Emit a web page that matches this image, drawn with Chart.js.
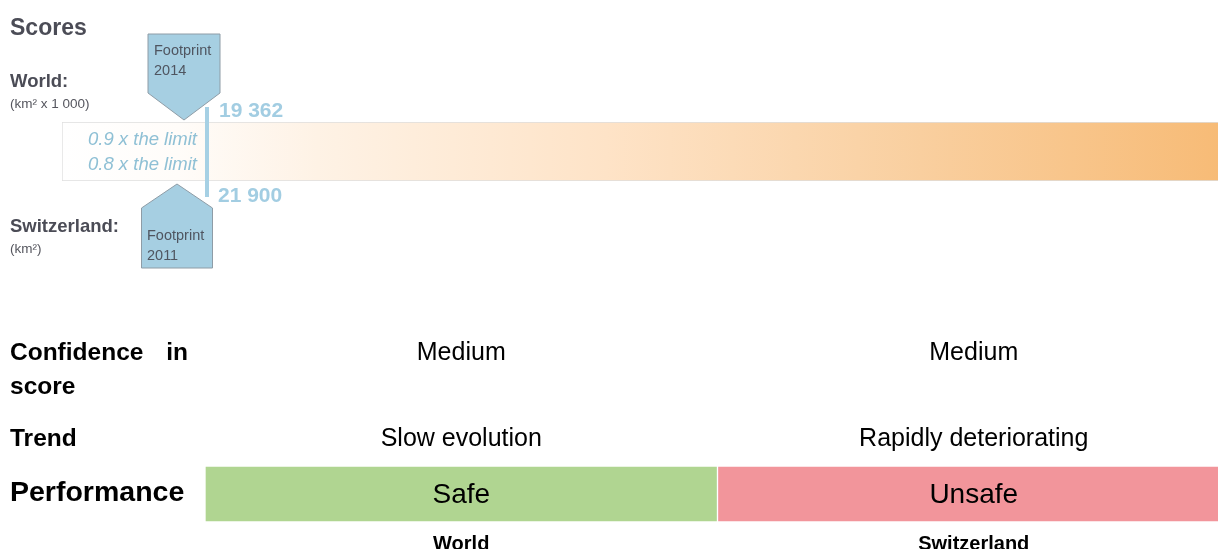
<!DOCTYPE html>
<html>
<head>
<meta charset="utf-8">
<script src="https://cdn.jsdelivr.net/npm/chart.js@4.4.1/dist/chart.umd.min.js"></script>
<style>
  html, body { margin: 0; padding: 0; background: #fff; overflow: hidden; width: 1218px; height: 549px; }
  #scores { position: absolute; left: 0; top: 0; }
  #table { position: absolute; left: 0; top: 290px; }
</style>
</head>
<body>
<canvas id="scores" width="1222" height="290"></canvas>
<canvas id="table" width="1230" height="276"></canvas>
<script>
const FONT = "'Liberation Sans', Arial, sans-serif";

// scores part
const scoreLabels = ['World:', 'Switzerland:'];
const unitNotes = ['(km² x 1 000)', '(km²)'];
const footprintYears = ['2014', '2011'];
const footprintValues = [19362, 21900];
const limitRatios = [0.9, 0.8];
const scaleMax = 7.2; // right end of the bar, in "x the limit"

// table part
const regions = ['World', 'Switzerland'];
const confidence = ['Medium', 'Medium'];
const trend = ['Slow evolution', 'Rapidly deteriorating'];
const performance = ['Safe', 'Unsafe'];
const perfColors = ['#b0d591', '#f2959b'];

function fmt(v) {
    return String(v).replace(/\B(?=(\d{3})+(?!\d))/g, ' ');
}

function pentagon(ctx, pts) {
    ctx.beginPath();
    pts.forEach((p, i) => i ? ctx.lineTo(p[0], p[1]) : ctx.moveTo(p[0], p[1]));
    ctx.closePath();
    ctx.fillStyle = '#a6cfe2';
    ctx.fill();
    ctx.strokeStyle = '#8e9ca6';
    ctx.lineWidth = 1;
    ctx.stroke();
}

const scoreDecor = {
    id: 'scoreDecor',
    afterDatasetsDraw(chart) {
        const ctx = chart.ctx;
        const lx = chart.scales.x.getPixelForValue(limitRatios[0]);
        ctx.save();
        ctx.textBaseline = 'alphabetic';

        // left titles
        ctx.fillStyle = '#4b4c56';
        ctx.textAlign = 'left';
        ctx.font = 'bold 23px ' + FONT;
        ctx.fillText('Scores', 10, 35);
        ctx.font = 'bold 18.5px ' + FONT;
        ctx.fillText(scoreLabels[0], 10, 87);
        ctx.fillText(scoreLabels[1], 10, 232);
        ctx.fillStyle = '#55565e';
        ctx.font = '13.5px ' + FONT;
        ctx.fillText(unitNotes[0], 10, 108);
        ctx.fillText(unitNotes[1], 10, 253);

        // marker line
        ctx.fillStyle = '#a6d0e4';
        ctx.fillRect(lx - 2, 107, 4, 90);

        // footprint callouts
        let cx = lx - 23;
        pentagon(ctx, [[cx - 36, 34], [cx + 36, 34], [cx + 36, 93], [cx, 120], [cx - 36, 93]]);
        cx = lx - 30;
        pentagon(ctx, [[cx, 184], [cx + 35.5, 208], [cx + 35.5, 268], [cx - 35.5, 268], [cx - 35.5, 208]]);

        ctx.fillStyle = '#4f5560';
        ctx.font = '14.5px ' + FONT;
        ctx.fillText('Footprint', lx - 53, 55);
        ctx.fillText(footprintYears[0], lx - 53, 75);
        ctx.fillText('Footprint', lx - 60, 240);
        ctx.fillText(footprintYears[1], lx - 60, 260);

        // values
        ctx.fillStyle = '#a2cde2';
        ctx.font = 'bold 21px ' + FONT;
        ctx.fillText(fmt(footprintValues[0]), lx + 12, 117);
        ctx.fillText(fmt(footprintValues[1]), lx + 11, 202);

        // ratios
        ctx.fillStyle = '#8fc0d5';
        ctx.font = 'italic 18.5px ' + FONT;
        ctx.textAlign = 'right';
        ctx.fillText(limitRatios[0] + ' x the limit', lx - 10, 145);
        ctx.fillText(limitRatios[1] + ' x the limit', lx - 10, 170);
        ctx.restore();
    }
};

new Chart(document.getElementById('scores'), {
    type: 'bar',
    data: {
        labels: ['limit'],
        datasets: [{
            data: [[0, scaleMax]],
            backgroundColor(c) {
                const a = c.chart.chartArea;
                if (!a) return '#fff';
                const g = c.chart.ctx.createLinearGradient(a.left, 0, a.right, 0);
                g.addColorStop(0, '#ffffff');
                g.addColorStop(0.1, '#fffcf9');
                g.addColorStop(0.22, '#fef2e5');
                g.addColorStop(0.47, '#fee3c7');
                g.addColorStop(0.74, '#f9cf9f');
                g.addColorStop(1, '#f7bb76');
                return g;
            },
            borderColor: '#dedede',
            borderWidth: 1,
            borderSkipped: false,
            barPercentage: 1,
            categoryPercentage: 1
        }]
    },
    options: {
        indexAxis: 'y',
        responsive: false,
        animation: false,
        events: [],
        layout: { padding: { left: 62, right: 0, top: 122, bottom: 109 } },
        scales: {
            x: { display: false, min: 0, max: scaleMax },
            y: { display: false }
        },
        plugins: { legend: { display: false }, tooltip: { enabled: false } }
    },
    plugins: [scoreDecor]
});

const tableText = {
    id: 'tableText',
    afterDatasetsDraw(chart) {
        const ctx = chart.ctx;
        const x = chart.scales.x;
        const off = 290;
        const t = (s, px, py, font, align) => {
            ctx.font = font + ' ' + FONT;
            ctx.textAlign = align;
            ctx.fillText(s, px, py - off);
        };
        ctx.save();
        ctx.fillStyle = '#000';
        ctx.textBaseline = 'alphabetic';

        t('Confidence', 10, 360, 'bold 24.5px', 'left');
        t('in', 188, 360, 'bold 24.5px', 'right');
        t('score', 10, 394, 'bold 24.5px', 'left');
        t('Trend', 10, 446, 'bold 24.5px', 'left');
        t('Performance', 10, 501, 'bold 28.5px', 'left');

        regions.forEach((r, i) => {
            const cx = x.getPixelForValue(i);
            t(confidence[i], cx, 360, '25px', 'center');
            t(trend[i], cx, 446, '25px', 'center');
        });

        const bars = chart.getDatasetMeta(0).data;
        bars.forEach((b, i) => {
            t(performance[i], b.x, 503, '28px', 'center');
        });
        ctx.restore();
    }
};

new Chart(document.getElementById('table'), {
    type: 'bar',
    data: {
        labels: regions,
        datasets: [{
            data: performance.map(() => [0, 1]),
            backgroundColor: perfColors,
            borderColor: '#ffffff',
            borderWidth: 1,
            borderSkipped: false,
            barPercentage: 1,
            categoryPercentage: 1
        }]
    },
    options: {
        responsive: false,
        animation: false,
        events: [],
        layout: { padding: { left: 205, right: 0, top: 176, bottom: 0 } },
        scales: {
            x: {
                grid: { display: false, drawTicks: false },
                border: { display: false },
                ticks: { color: '#000', padding: 10, font: { family: FONT, size: 20, weight: 'bold' } }
            },
            y: { display: false, min: 0, max: 1 }
        },
        plugins: { legend: { display: false }, tooltip: { enabled: false } }
    },
    plugins: [tableText]
});
</script>
</body>
</html>
